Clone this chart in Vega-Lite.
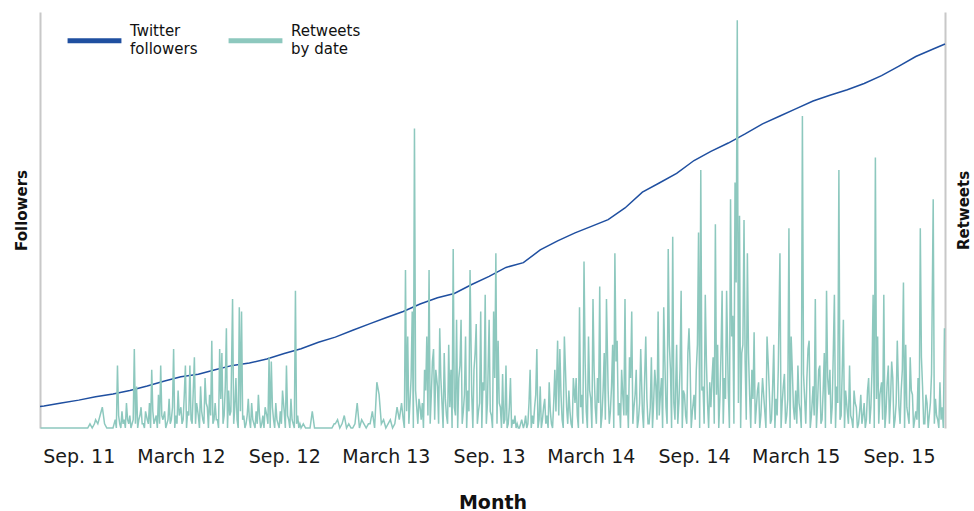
{
  "$schema": "https://vega.github.io/schema/vega-lite/v6.json",
  "width": 905,
  "height": 416,
  "autosize": "none",
  "padding": {"left": 40, "top": 12, "right": 29, "bottom": 83},
  "background": "white",
  "config": {
    "font": "DejaVu Sans",
    "view": {"stroke": null},
    "style": {"guide-label": {"lineHeight": 18}}
  },
  "datasets": {
    "followers": [
      {"d":"2011-06-24","f":517},{"d":"2011-07-01","f":530},{"d":"2011-08-01","f":600},{"d":"2011-09-01","f":670},
      {"d":"2011-10-01","f":750},{"d":"2011-11-01","f":820},{"d":"2011-12-01","f":900},{"d":"2012-01-01","f":1010},
      {"d":"2012-02-01","f":1130},{"d":"2012-03-01","f":1230},{"d":"2012-04-01","f":1290},{"d":"2012-05-01","f":1400},
      {"d":"2012-06-01","f":1505},{"d":"2012-07-01","f":1560},{"d":"2012-08-01","f":1660},{"d":"2012-09-01","f":1790},
      {"d":"2012-10-01","f":1905},{"d":"2012-11-01","f":2060},{"d":"2012-12-01","f":2185},{"d":"2013-01-01","f":2350},
      {"d":"2013-02-01","f":2510},{"d":"2013-03-01","f":2650},{"d":"2013-04-01","f":2800},{"d":"2013-05-01","f":2980},
      {"d":"2013-06-01","f":3130},{"d":"2013-07-01","f":3235},{"d":"2013-08-01","f":3450},{"d":"2013-09-01","f":3645},
      {"d":"2013-10-01","f":3860},{"d":"2013-11-01","f":3975},{"d":"2013-12-01","f":4280},{"d":"2014-01-01","f":4500},
      {"d":"2014-02-01","f":4690},{"d":"2014-03-01","f":4840},{"d":"2014-04-01","f":5010},{"d":"2014-05-01","f":5290},
      {"d":"2014-06-01","f":5670},{"d":"2014-07-01","f":5890},{"d":"2014-08-01","f":6120},{"d":"2014-09-01","f":6430},
      {"d":"2014-10-01","f":6650},{"d":"2014-11-01","f":6850},{"d":"2014-12-01","f":7070},{"d":"2015-01-01","f":7310},
      {"d":"2015-02-01","f":7500},{"d":"2015-03-01","f":7670},{"d":"2015-04-01","f":7860},{"d":"2015-05-01","f":8000},
      {"d":"2015-06-01","f":8130},{"d":"2015-07-01","f":8280},{"d":"2015-08-01","f":8470},{"d":"2015-09-01","f":8700},
      {"d":"2015-10-01","f":8930},{"d":"2015-11-01","f":9110},{"d":"2015-11-22","f":9231}
    ],
    "retweets": [
      {"d":"2011-06-25","r":0},{"d":"2011-06-29","r":0},
      {"d":"2011-07-01","r":0},{"d":"2011-07-05","r":0},{"d":"2011-07-09","r":0},{"d":"2011-07-13","r":0},{"d":"2011-07-17","r":0},{"d":"2011-07-21","r":0},{"d":"2011-07-25","r":0},{"d":"2011-07-29","r":0},
      {"d":"2011-08-01","r":0},{"d":"2011-08-05","r":0},{"d":"2011-08-09","r":0},{"d":"2011-08-13","r":0},{"d":"2011-08-17","r":0},{"d":"2011-08-21","r":0},{"d":"2011-08-25","r":0},{"d":"2011-08-29","r":0},
      {"d":"2011-09-01","r":0},{"d":"2011-09-05","r":0},{"d":"2011-09-09","r":0},{"d":"2011-09-13","r":0},{"d":"2011-09-17","r":0},{"d":"2011-09-21","r":1},{"d":"2011-09-25","r":0},{"d":"2011-09-29","r":1},
      {"d":"2011-10-01","r":2},{"d":"2011-10-05","r":1},{"d":"2011-10-09","r":3},{"d":"2011-10-13","r":5},{"d":"2011-10-17","r":1},{"d":"2011-10-21","r":0},{"d":"2011-10-25","r":0},{"d":"2011-10-29","r":0},
      {"d":"2011-11-01","r":0},{"d":"2011-11-05","r":2},{"d":"2011-11-09","r":15},{"d":"2011-11-13","r":1},{"d":"2011-11-17","r":4},{"d":"2011-11-21","r":2},{"d":"2011-11-25","r":6},{"d":"2011-11-29","r":1},
      {"d":"2011-12-01","r":3},{"d":"2011-12-05","r":1},{"d":"2011-12-09","r":19},{"d":"2011-12-13","r":10},{"d":"2011-12-17","r":2},{"d":"2011-12-21","r":5},{"d":"2011-12-25","r":1},{"d":"2011-12-29","r":4},
      {"d":"2012-01-01","r":2},{"d":"2012-01-05","r":6},{"d":"2012-01-09","r":14},{"d":"2012-01-13","r":1},{"d":"2012-01-17","r":3},{"d":"2012-01-21","r":8},{"d":"2012-01-25","r":15},{"d":"2012-01-29","r":2},
      {"d":"2012-02-01","r":4},{"d":"2012-02-05","r":1},{"d":"2012-02-09","r":7},{"d":"2012-02-13","r":2},{"d":"2012-02-17","r":19},{"d":"2012-02-21","r":3},{"d":"2012-02-25","r":9},
      {"d":"2012-03-01","r":5},{"d":"2012-03-05","r":2},{"d":"2012-03-09","r":15},{"d":"2012-03-13","r":4},{"d":"2012-03-17","r":15},{"d":"2012-03-21","r":1},{"d":"2012-03-25","r":17},{"d":"2012-03-29","r":6},
      {"d":"2012-04-01","r":3},{"d":"2012-04-05","r":10},{"d":"2012-04-09","r":2},{"d":"2012-04-13","r":12},{"d":"2012-04-17","r":5},{"d":"2012-04-21","r":8},{"d":"2012-04-25","r":21},{"d":"2012-04-29","r":2},
      {"d":"2012-05-01","r":6},{"d":"2012-05-05","r":2},{"d":"2012-05-09","r":19},{"d":"2012-05-13","r":18},{"d":"2012-05-17","r":3},{"d":"2012-05-21","r":24},{"d":"2012-05-25","r":9},{"d":"2012-05-29","r":4},
      {"d":"2012-06-01","r":31},{"d":"2012-06-05","r":5},{"d":"2012-06-09","r":2},{"d":"2012-06-13","r":29},{"d":"2012-06-17","r":28},{"d":"2012-06-21","r":3},{"d":"2012-06-25","r":1},{"d":"2012-06-29","r":7},
      {"d":"2012-07-01","r":2},{"d":"2012-07-05","r":6},{"d":"2012-07-09","r":1},{"d":"2012-07-13","r":4},{"d":"2012-07-17","r":8},{"d":"2012-07-21","r":0},{"d":"2012-07-25","r":3},{"d":"2012-07-29","r":5},
      {"d":"2012-08-01","r":3},{"d":"2012-08-05","r":17},{"d":"2012-08-09","r":16},{"d":"2012-08-13","r":2},{"d":"2012-08-17","r":6},{"d":"2012-08-21","r":1},{"d":"2012-08-25","r":4},{"d":"2012-08-29","r":9},
      {"d":"2012-09-01","r":4},{"d":"2012-09-05","r":15},{"d":"2012-09-09","r":2},{"d":"2012-09-13","r":7},{"d":"2012-09-17","r":1},{"d":"2012-09-21","r":33},{"d":"2012-09-25","r":3},{"d":"2012-09-29","r":1},
      {"d":"2012-10-01","r":0},{"d":"2012-10-05","r":1},{"d":"2012-10-09","r":0},{"d":"2012-10-13","r":0},{"d":"2012-10-17","r":0},{"d":"2012-10-21","r":4},{"d":"2012-10-25","r":0},{"d":"2012-10-29","r":0},
      {"d":"2012-11-01","r":0},{"d":"2012-11-05","r":0},{"d":"2012-11-09","r":0},{"d":"2012-11-13","r":0},{"d":"2012-11-17","r":0},{"d":"2012-11-21","r":0},{"d":"2012-11-25","r":0},{"d":"2012-11-29","r":1},
      {"d":"2012-12-01","r":1},{"d":"2012-12-05","r":2},{"d":"2012-12-09","r":0},{"d":"2012-12-13","r":1},{"d":"2012-12-17","r":3},{"d":"2012-12-21","r":0},{"d":"2012-12-25","r":1},{"d":"2012-12-29","r":0},
      {"d":"2013-01-01","r":0},{"d":"2013-01-05","r":1},{"d":"2013-01-09","r":6},{"d":"2013-01-13","r":0},{"d":"2013-01-17","r":2},{"d":"2013-01-21","r":1},{"d":"2013-01-25","r":0},{"d":"2013-01-29","r":1},
      {"d":"2013-02-01","r":1},{"d":"2013-02-05","r":4},{"d":"2013-02-09","r":0},{"d":"2013-02-13","r":11},{"d":"2013-02-17","r":8},{"d":"2013-02-21","r":1},{"d":"2013-02-25","r":2},
      {"d":"2013-03-01","r":0},{"d":"2013-03-05","r":1},{"d":"2013-03-09","r":2},{"d":"2013-03-13","r":0},{"d":"2013-03-17","r":1},{"d":"2013-03-21","r":5},{"d":"2013-03-25","r":2},{"d":"2013-03-29","r":6},
      {"d":"2013-04-01","r":2},{"d":"2013-04-05","r":38},{"d":"2013-04-09","r":22},{"d":"2013-04-13","r":6},{"d":"2013-04-17","r":28},{"d":"2013-04-21","r":72},{"d":"2013-04-25","r":5},{"d":"2013-04-29","r":7},
      {"d":"2013-05-01","r":5},{"d":"2013-05-05","r":6},{"d":"2013-05-09","r":14},{"d":"2013-05-13","r":22},{"d":"2013-05-17","r":38},{"d":"2013-05-21","r":8},{"d":"2013-05-25","r":19},{"d":"2013-05-29","r":14},
      {"d":"2013-06-01","r":10},{"d":"2013-06-05","r":24},{"d":"2013-06-09","r":6},{"d":"2013-06-13","r":18},{"d":"2013-06-17","r":3},{"d":"2013-06-21","r":20},{"d":"2013-06-25","r":14},{"d":"2013-06-29","r":43},
      {"d":"2013-07-01","r":5},{"d":"2013-07-05","r":26},{"d":"2013-07-09","r":12},{"d":"2013-07-13","r":26},{"d":"2013-07-17","r":4},{"d":"2013-07-21","r":22},{"d":"2013-07-25","r":9},{"d":"2013-07-29","r":38},
      {"d":"2013-08-01","r":8},{"d":"2013-08-05","r":14},{"d":"2013-08-09","r":25},{"d":"2013-08-13","r":4},{"d":"2013-08-17","r":28},{"d":"2013-08-21","r":11},{"d":"2013-08-25","r":32},{"d":"2013-08-29","r":6},
      {"d":"2013-09-01","r":26},{"d":"2013-09-05","r":3},{"d":"2013-09-09","r":28},{"d":"2013-09-13","r":42},{"d":"2013-09-17","r":21},{"d":"2013-09-21","r":5},{"d":"2013-09-25","r":13},{"d":"2013-09-29","r":2},
      {"d":"2013-10-01","r":15},{"d":"2013-10-05","r":1},{"d":"2013-10-09","r":12},{"d":"2013-10-13","r":2},{"d":"2013-10-17","r":3},{"d":"2013-10-21","r":1},{"d":"2013-10-25","r":0},{"d":"2013-10-29","r":2},
      {"d":"2013-11-01","r":0},{"d":"2013-11-05","r":3},{"d":"2013-11-09","r":1},{"d":"2013-11-13","r":14},{"d":"2013-11-17","r":3},{"d":"2013-11-21","r":5},{"d":"2013-11-25","r":19},{"d":"2013-11-29","r":2},
      {"d":"2013-12-01","r":10},{"d":"2013-12-05","r":2},{"d":"2013-12-09","r":7},{"d":"2013-12-13","r":3},{"d":"2013-12-17","r":11},{"d":"2013-12-21","r":1},{"d":"2013-12-25","r":6},{"d":"2013-12-29","r":4},
      {"d":"2014-01-01","r":21},{"d":"2014-01-05","r":19},{"d":"2014-01-09","r":2},{"d":"2014-01-13","r":22},{"d":"2014-01-17","r":5},{"d":"2014-01-21","r":9},{"d":"2014-01-25","r":1},{"d":"2014-01-29","r":12},
      {"d":"2014-02-01","r":6},{"d":"2014-02-05","r":3},{"d":"2014-02-09","r":29},{"d":"2014-02-13","r":8},{"d":"2014-02-17","r":40},{"d":"2014-02-21","r":4},{"d":"2014-02-25","r":22},
      {"d":"2014-03-01","r":7},{"d":"2014-03-05","r":31},{"d":"2014-03-09","r":5},{"d":"2014-03-13","r":12},{"d":"2014-03-17","r":34},{"d":"2014-03-21","r":3},{"d":"2014-03-25","r":18},{"d":"2014-03-29","r":31},
      {"d":"2014-04-01","r":9},{"d":"2014-04-05","r":4},{"d":"2014-04-09","r":20},{"d":"2014-04-13","r":42},{"d":"2014-04-17","r":21},{"d":"2014-04-21","r":6},{"d":"2014-04-25","r":14},{"d":"2014-04-29","r":3},
      {"d":"2014-05-01","r":31},{"d":"2014-05-05","r":8},{"d":"2014-05-09","r":17},{"d":"2014-05-13","r":28},{"d":"2014-05-17","r":5},{"d":"2014-05-21","r":14},{"d":"2014-05-25","r":2},{"d":"2014-05-29","r":19},
      {"d":"2014-06-01","r":4},{"d":"2014-06-05","r":12},{"d":"2014-06-09","r":7},{"d":"2014-06-13","r":1},{"d":"2014-06-17","r":17},{"d":"2014-06-21","r":6},{"d":"2014-06-25","r":10},{"d":"2014-06-29","r":28},
      {"d":"2014-07-01","r":3},{"d":"2014-07-05","r":12},{"d":"2014-07-09","r":29},{"d":"2014-07-13","r":5},{"d":"2014-07-17","r":43},{"d":"2014-07-21","r":14},{"d":"2014-07-25","r":46},{"d":"2014-07-29","r":2},
      {"d":"2014-08-01","r":20},{"d":"2014-08-05","r":6},{"d":"2014-08-09","r":33},{"d":"2014-08-13","r":9},{"d":"2014-08-17","r":3},{"d":"2014-08-21","r":18},{"d":"2014-08-25","r":15},{"d":"2014-08-29","r":4},
      {"d":"2014-09-01","r":8},{"d":"2014-09-05","r":14},{"d":"2014-09-09","r":47},{"d":"2014-09-13","r":62},{"d":"2014-09-17","r":10},{"d":"2014-09-21","r":32},{"d":"2014-09-25","r":6},{"d":"2014-09-29","r":11},
      {"d":"2014-10-01","r":5},{"d":"2014-10-05","r":17},{"d":"2014-10-09","r":49},{"d":"2014-10-13","r":20},{"d":"2014-10-17","r":7},{"d":"2014-10-21","r":33},{"d":"2014-10-25","r":12},{"d":"2014-10-29","r":33},
      {"d":"2014-11-01","r":9},{"d":"2014-11-05","r":55},{"d":"2014-11-09","r":27},{"d":"2014-11-13","r":59},{"d":"2014-11-17","r":98},{"d":"2014-11-21","r":51},{"d":"2014-11-25","r":18},{"d":"2014-11-29","r":50},
      {"d":"2014-12-01","r":16},{"d":"2014-12-05","r":42},{"d":"2014-12-09","r":8},{"d":"2014-12-13","r":14},{"d":"2014-12-17","r":23},{"d":"2014-12-21","r":5},{"d":"2014-12-25","r":11},{"d":"2014-12-29","r":3},
      {"d":"2015-01-01","r":12},{"d":"2015-01-05","r":4},{"d":"2015-01-09","r":22},{"d":"2015-01-13","r":9},{"d":"2015-01-17","r":2},{"d":"2015-01-21","r":20},{"d":"2015-01-25","r":7},{"d":"2015-01-29","r":14},
      {"d":"2015-02-01","r":42},{"d":"2015-02-05","r":6},{"d":"2015-02-09","r":13},{"d":"2015-02-13","r":3},{"d":"2015-02-17","r":48},{"d":"2015-02-21","r":22},{"d":"2015-02-25","r":5},
      {"d":"2015-03-01","r":9},{"d":"2015-03-05","r":15},{"d":"2015-03-09","r":4},{"d":"2015-03-13","r":75},{"d":"2015-03-17","r":7},{"d":"2015-03-21","r":12},{"d":"2015-03-25","r":21},{"d":"2015-03-29","r":3},
      {"d":"2015-04-01","r":10},{"d":"2015-04-05","r":31},{"d":"2015-04-09","r":6},{"d":"2015-04-13","r":15},{"d":"2015-04-17","r":2},{"d":"2015-04-21","r":18},{"d":"2015-04-25","r":33},{"d":"2015-04-29","r":8},
      {"d":"2015-05-01","r":14},{"d":"2015-05-05","r":5},{"d":"2015-05-09","r":32},{"d":"2015-05-13","r":10},{"d":"2015-05-17","r":62},{"d":"2015-05-21","r":3},{"d":"2015-05-25","r":26},{"d":"2015-05-29","r":9},
      {"d":"2015-06-01","r":4},{"d":"2015-06-05","r":15},{"d":"2015-06-09","r":2},{"d":"2015-06-13","r":9},{"d":"2015-06-17","r":5},{"d":"2015-06-21","r":1},{"d":"2015-06-25","r":8},{"d":"2015-06-29","r":3},
      {"d":"2015-07-01","r":6},{"d":"2015-07-05","r":2},{"d":"2015-07-09","r":12},{"d":"2015-07-13","r":5},{"d":"2015-07-17","r":32},{"d":"2015-07-21","r":65},{"d":"2015-07-25","r":22},{"d":"2015-07-29","r":8},
      {"d":"2015-08-01","r":11},{"d":"2015-08-05","r":32},{"d":"2015-08-09","r":4},{"d":"2015-08-13","r":15},{"d":"2015-08-17","r":7},{"d":"2015-08-21","r":12},{"d":"2015-08-25","r":2},{"d":"2015-08-29","r":21},
      {"d":"2015-09-01","r":5},{"d":"2015-09-05","r":9},{"d":"2015-09-09","r":35},{"d":"2015-09-13","r":20},{"d":"2015-09-17","r":3},{"d":"2015-09-21","r":17},{"d":"2015-09-25","r":8},{"d":"2015-09-29","r":2},
      {"d":"2015-10-01","r":4},{"d":"2015-10-05","r":12},{"d":"2015-10-09","r":48},{"d":"2015-10-13","r":10},{"d":"2015-10-17","r":1},{"d":"2015-10-21","r":6},{"d":"2015-10-25","r":3},{"d":"2015-10-29","r":13},
      {"d":"2015-11-01","r":55},{"d":"2015-11-05","r":7},{"d":"2015-11-09","r":2},{"d":"2015-11-13","r":11},{"d":"2015-11-17","r":5},{"d":"2015-11-21","r":24},
      {"d":"2011-11-03","r":1},{"d":"2011-11-07","r":0},{"d":"2011-11-11","r":3},{"d":"2011-11-15","r":0},{"d":"2011-11-19","r":1},{"d":"2011-11-23","r":0},{"d":"2011-11-27","r":2},
      {"d":"2011-12-03","r":0},{"d":"2011-12-07","r":2},{"d":"2011-12-11","r":1},{"d":"2011-12-15","r":0},{"d":"2011-12-19","r":3},{"d":"2011-12-23","r":1},{"d":"2011-12-27","r":0},
      {"d":"2012-01-03","r":1},{"d":"2012-01-07","r":0},{"d":"2012-01-11","r":4},{"d":"2012-01-15","r":2},{"d":"2012-01-19","r":0},{"d":"2012-01-23","r":1},{"d":"2012-01-27","r":3},
      {"d":"2012-02-03","r":0},{"d":"2012-02-07","r":2},{"d":"2012-02-11","r":1},{"d":"2012-02-15","r":5},{"d":"2012-02-19","r":0},{"d":"2012-02-23","r":1},{"d":"2012-02-27","r":3},
      {"d":"2012-03-03","r":1},{"d":"2012-03-07","r":8},{"d":"2012-03-11","r":0},{"d":"2012-03-15","r":3},{"d":"2012-03-19","r":2},{"d":"2012-03-23","r":9},{"d":"2012-03-27","r":1},
      {"d":"2012-04-03","r":0},{"d":"2012-04-07","r":4},{"d":"2012-04-11","r":1},{"d":"2012-04-15","r":6},{"d":"2012-04-19","r":0},{"d":"2012-04-23","r":3},{"d":"2012-04-27","r":1},
      {"d":"2012-05-03","r":2},{"d":"2012-05-07","r":0},{"d":"2012-05-11","r":7},{"d":"2012-05-15","r":1},{"d":"2012-05-19","r":10},{"d":"2012-05-23","r":0},{"d":"2012-05-27","r":3},
      {"d":"2012-06-03","r":1},{"d":"2012-06-07","r":12},{"d":"2012-06-11","r":0},{"d":"2012-06-15","r":4},{"d":"2012-06-19","r":2},{"d":"2012-06-23","r":0},{"d":"2012-06-27","r":3},
      {"d":"2012-07-03","r":0},{"d":"2012-07-07","r":2},{"d":"2012-07-11","r":0},{"d":"2012-07-15","r":1},{"d":"2012-07-19","r":3},{"d":"2012-07-23","r":1},{"d":"2012-07-27","r":0},
      {"d":"2012-08-03","r":1},{"d":"2012-08-07","r":0},{"d":"2012-08-11","r":5},{"d":"2012-08-15","r":0},{"d":"2012-08-19","r":2},{"d":"2012-08-23","r":0},{"d":"2012-08-27","r":1},
      {"d":"2012-09-03","r":0},{"d":"2012-09-07","r":3},{"d":"2012-09-11","r":0},{"d":"2012-09-15","r":2},{"d":"2012-09-19","r":0},{"d":"2012-09-23","r":1},{"d":"2012-09-27","r":0},
      {"d":"2013-04-03","r":0},{"d":"2013-04-07","r":4},{"d":"2013-04-11","r":1},{"d":"2013-04-15","r":12},{"d":"2013-04-19","r":0},{"d":"2013-04-23","r":9},{"d":"2013-04-27","r":1},
      {"d":"2013-05-03","r":2},{"d":"2013-05-07","r":0},{"d":"2013-05-11","r":9},{"d":"2013-05-15","r":3},{"d":"2013-05-19","r":1},{"d":"2013-05-23","r":16},{"d":"2013-05-27","r":2},
      {"d":"2013-06-03","r":1},{"d":"2013-06-07","r":12},{"d":"2013-06-11","r":0},{"d":"2013-06-15","r":7},{"d":"2013-06-19","r":1},{"d":"2013-06-23","r":5},{"d":"2013-06-27","r":0},
      {"d":"2013-07-03","r":3},{"d":"2013-07-07","r":0},{"d":"2013-07-11","r":15},{"d":"2013-07-15","r":1},{"d":"2013-07-19","r":8},{"d":"2013-07-23","r":0},{"d":"2013-07-27","r":4},
      {"d":"2013-08-03","r":0},{"d":"2013-08-07","r":18},{"d":"2013-08-11","r":1},{"d":"2013-08-15","r":6},{"d":"2013-08-19","r":0},{"d":"2013-08-23","r":9},{"d":"2013-08-27","r":1},
      {"d":"2013-09-03","r":4},{"d":"2013-09-07","r":0},{"d":"2013-09-11","r":12},{"d":"2013-09-15","r":1},{"d":"2013-09-19","r":6},{"d":"2013-09-23","r":0},{"d":"2013-09-27","r":1},
      {"d":"2013-10-03","r":0},{"d":"2013-10-07","r":5},{"d":"2013-10-11","r":0},{"d":"2013-10-15","r":1},{"d":"2013-10-19","r":0},{"d":"2013-10-23","r":0},{"d":"2013-10-27","r":1},
      {"d":"2013-11-03","r":1},{"d":"2013-11-07","r":0},{"d":"2013-11-11","r":6},{"d":"2013-11-15","r":0},{"d":"2013-11-19","r":1},{"d":"2013-11-23","r":8},{"d":"2013-11-27","r":0},
      {"d":"2013-12-03","r":0},{"d":"2013-12-07","r":5},{"d":"2013-12-11","r":1},{"d":"2013-12-15","r":0},{"d":"2013-12-19","r":4},{"d":"2013-12-23","r":0},{"d":"2013-12-27","r":14},
      {"d":"2014-01-03","r":3},{"d":"2014-01-07","r":8},{"d":"2014-01-11","r":0},{"d":"2014-01-15","r":14},{"d":"2014-01-19","r":1},{"d":"2014-01-23","r":4},{"d":"2014-01-27","r":0},
      {"d":"2014-02-03","r":12},{"d":"2014-02-07","r":0},{"d":"2014-02-11","r":5},{"d":"2014-02-15","r":1},{"d":"2014-02-19","r":16},{"d":"2014-02-23","r":0},{"d":"2014-02-27","r":9},
      {"d":"2014-03-03","r":0},{"d":"2014-03-07","r":14},{"d":"2014-03-11","r":1},{"d":"2014-03-15","r":6},{"d":"2014-03-19","r":0},{"d":"2014-03-23","r":9},{"d":"2014-03-27","r":2},
      {"d":"2014-04-03","r":1},{"d":"2014-04-07","r":10},{"d":"2014-04-11","r":0},{"d":"2014-04-15","r":16},{"d":"2014-04-19","r":3},{"d":"2014-04-23","r":0},{"d":"2014-04-27","r":8},
      {"d":"2014-05-03","r":3},{"d":"2014-05-07","r":0},{"d":"2014-05-11","r":12},{"d":"2014-05-15","r":1},{"d":"2014-05-19","r":8},{"d":"2014-05-23","r":0},{"d":"2014-05-27","r":6},
      {"d":"2014-06-03","r":0},{"d":"2014-06-07","r":22},{"d":"2014-06-11","r":1},{"d":"2014-06-15","r":5},{"d":"2014-06-19","r":0},{"d":"2014-06-23","r":14},{"d":"2014-06-27","r":2},
      {"d":"2014-07-03","r":8},{"d":"2014-07-07","r":0},{"d":"2014-07-11","r":16},{"d":"2014-07-15","r":1},{"d":"2014-07-19","r":20},{"d":"2014-07-23","r":0},{"d":"2014-07-27","r":6},
      {"d":"2014-08-03","r":1},{"d":"2014-08-07","r":14},{"d":"2014-08-11","r":0},{"d":"2014-08-15","r":8},{"d":"2014-08-19","r":1},{"d":"2014-08-23","r":24},{"d":"2014-08-27","r":0},
      {"d":"2014-09-03","r":2},{"d":"2014-09-07","r":20},{"d":"2014-09-11","r":0},{"d":"2014-09-15","r":9},{"d":"2014-09-19","r":1},{"d":"2014-09-23","r":16},{"d":"2014-09-27","r":0},
      {"d":"2014-10-03","r":12},{"d":"2014-10-07","r":1},{"d":"2014-10-11","r":8},{"d":"2014-10-15","r":0},{"d":"2014-10-19","r":18},{"d":"2014-10-23","r":1},{"d":"2014-10-27","r":7},
      {"d":"2014-11-03","r":0},{"d":"2014-11-07","r":22},{"d":"2014-11-11","r":1},{"d":"2014-11-15","r":35},{"d":"2014-11-19","r":6},{"d":"2014-11-23","r":0},{"d":"2014-11-27","r":20},
      {"d":"2014-12-03","r":2},{"d":"2014-12-07","r":18},{"d":"2014-12-11","r":0},{"d":"2014-12-15","r":7},{"d":"2014-12-19","r":1},{"d":"2014-12-23","r":9},{"d":"2014-12-27","r":0},
      {"d":"2015-01-03","r":8},{"d":"2015-01-07","r":0},{"d":"2015-01-11","r":16},{"d":"2015-01-15","r":1},{"d":"2015-01-19","r":10},{"d":"2015-01-23","r":0},{"d":"2015-01-27","r":3},
      {"d":"2015-02-03","r":0},{"d":"2015-02-07","r":10},{"d":"2015-02-11","r":1},{"d":"2015-02-15","r":7},{"d":"2015-02-19","r":0},{"d":"2015-02-23","r":14},{"d":"2015-02-27","r":2},
      {"d":"2015-03-03","r":1},{"d":"2015-03-07","r":6},{"d":"2015-03-11","r":0},{"d":"2015-03-15","r":13},{"d":"2015-03-19","r":1},{"d":"2015-03-23","r":19},{"d":"2015-03-27","r":0},
      {"d":"2015-04-03","r":3},{"d":"2015-04-07","r":0},{"d":"2015-04-11","r":14},{"d":"2015-04-15","r":1},{"d":"2015-04-19","r":9},{"d":"2015-04-23","r":0},{"d":"2015-04-27","r":12},
      {"d":"2015-05-03","r":1},{"d":"2015-05-07","r":18},{"d":"2015-05-11","r":0},{"d":"2015-05-15","r":6},{"d":"2015-05-19","r":2},{"d":"2015-05-23","r":14},{"d":"2015-05-27","r":0},
      {"d":"2015-06-03","r":1},{"d":"2015-06-07","r":3},{"d":"2015-06-11","r":0},{"d":"2015-06-15","r":6},{"d":"2015-06-19","r":0},{"d":"2015-06-23","r":4},{"d":"2015-06-27","r":1},
      {"d":"2015-07-03","r":0},{"d":"2015-07-07","r":9},{"d":"2015-07-11","r":1},{"d":"2015-07-15","r":14},{"d":"2015-07-19","r":0},{"d":"2015-07-23","r":7},{"d":"2015-07-27","r":1},
      {"d":"2015-08-03","r":2},{"d":"2015-08-07","r":0},{"d":"2015-08-11","r":11},{"d":"2015-08-15","r":1},{"d":"2015-08-19","r":16},{"d":"2015-08-23","r":0},{"d":"2015-08-27","r":6},
      {"d":"2015-09-03","r":1},{"d":"2015-09-07","r":14},{"d":"2015-09-11","r":0},{"d":"2015-09-15","r":5},{"d":"2015-09-19","r":1},{"d":"2015-09-23","r":9},{"d":"2015-09-27","r":0},
      {"d":"2015-10-03","r":2},{"d":"2015-10-07","r":0},{"d":"2015-10-11","r":17},{"d":"2015-10-15","r":1},{"d":"2015-10-19","r":8},{"d":"2015-10-23","r":0},{"d":"2015-10-27","r":6},
      {"d":"2015-11-03","r":1},{"d":"2015-11-07","r":3},{"d":"2015-11-11","r":0},{"d":"2015-11-15","r":2},{"d":"2015-11-19","r":0}
    ]
  },
  "encoding": {
    "x": {
      "field": "d",
      "type": "temporal",
      "title": "Month",
      "scale": {
        "type": "utc",
        "domain": [
          {"year": 2011, "month": 6, "date": 24, "utc": true},
          {"year": 2015, "month": 11, "date": 22, "utc": true}
        ]
      },
      "axis": {
        "values": [
          {"year": 2011, "month": 9, "date": 1, "utc": true},
          {"year": 2012, "month": 3, "date": 1, "utc": true},
          {"year": 2012, "month": 9, "date": 1, "utc": true},
          {"year": 2013, "month": 3, "date": 1, "utc": true},
          {"year": 2013, "month": 9, "date": 1, "utc": true},
          {"year": 2014, "month": 3, "date": 1, "utc": true},
          {"year": 2014, "month": 9, "date": 1, "utc": true},
          {"year": 2015, "month": 3, "date": 1, "utc": true},
          {"year": 2015, "month": 9, "date": 1, "utc": true}
        ],
        "labelExpr": "(utcFormat(datum.value, '%m') == '09' ? 'Sep. ' : 'March ') + utcFormat(datum.value, '%y')",
        "domain": false,
        "ticks": false,
        "tickSize": 0,
        "grid": false,
        "labelFontSize": 19,
        "labelColor": "#1a1a1a",
        "labelPadding": 19,
        "labelOverlap": false,
        "titleFontSize": 19,
        "titleFontWeight": "bold",
        "titleColor": "#111111",
        "titleY": 80,
        "titleBaseline": "alphabetic"
      }
    }
  },
  "layer": [
    {
      "data": {"name": "followers"},
      "mark": {"type": "line", "strokeWidth": 1.5},
      "encoding": {
        "y": {
          "field": "f",
          "type": "quantitative",
          "scale": {"domain": [0, 10000], "nice": false},
          "axis": {
            "orient": "left",
            "labels": false,
            "ticks": false,
            "grid": false,
            "domainColor": "#c8c8c8",
            "domainWidth": 2,
            "title": "Followers",
            "titleFontSize": 15,
            "titleFontWeight": "bold",
            "titleColor": "#111111",
            "titlePadding": 11,
            "titleY": 198
          }
        },
        "color": {
          "datum": "Twitter followers",
          "type": "nominal",
          "scale": {"domain": ["Twitter followers", "Retweets by date"], "range": ["#1f4fa0", "#8dc8be"]},
          "legend": {
            "orient": "none",
            "legendX": 25,
            "legendY": -1,
            "direction": "horizontal",
            "title": null,
            "padding": 0,
            "symbolType": "stroke",
            "symbolSize": 2900,
            "symbolStrokeWidth": 5,
            "labelFontSize": 15,
            "labelColor": "#111111",
            "labelOffset": 6,
            "labelLimit": 0,
            "labelBaseline": "line-bottom",
            "columnPadding": 20,
            "labelExpr": "datum.label == 'Twitter followers' ? ['Twitter', 'followers'] : ['Retweets', 'by date']"
          }
        }
      }
    },
    {
      "data": {"name": "retweets"},
      "mark": {"type": "line", "strokeWidth": 1.5},
      "encoding": {
        "y": {
          "field": "r",
          "type": "quantitative",
          "scale": {"domain": [0, 100], "nice": false},
          "axis": {
            "orient": "right",
            "labels": false,
            "ticks": false,
            "grid": false,
            "domainColor": "#c8c8c8",
            "domainWidth": 2,
            "title": "Retweets",
            "titleFontSize": 15,
            "titleFontWeight": "bold",
            "titleColor": "#111111",
            "titleAngle": 270,
            "titleBaseline": "top",
            "titlePadding": 11,
            "titleY": 198
          }
        },
        "color": {"datum": "Retweets by date", "type": "nominal"}
      }
    }
  ],
  "resolve": {"scale": {"y": "independent"}}
}
